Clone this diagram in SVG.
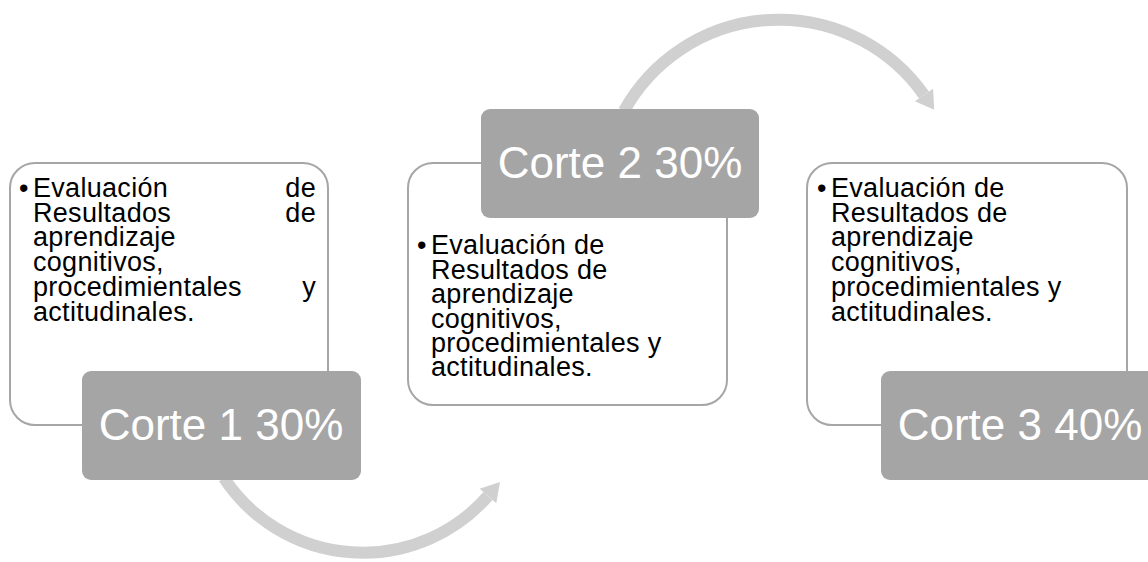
<svg xmlns="http://www.w3.org/2000/svg" width="1148" height="562" viewBox="0 0 1148 562">
<style>
.arc{fill:none;stroke:#d0d0d0;stroke-width:12}
.head{fill:#d0d0d0}
.frame{fill:#ffffff;stroke:#a6a6a6;stroke-width:2}
.tab{fill:#a5a5a5}
.tabtxt{font-family:"Liberation Sans",Arial,sans-serif;font-size:44px;fill:#ffffff;text-anchor:middle}
.body{font-family:"Liberation Sans",Arial,sans-serif;font-size:27px;fill:#000000;letter-spacing:0.3px}
</style>
<g id="connectors">
<path class="arc" d="M224,478 A166.4,166.4 0 0,0 488,496"/>
<polygon class="head" points="500,482 496.3,503.2 479.7,488.8"/>
<path class="arc" d="M624,111 A177.2,177.2 0 0,1 924,95"/>
<polygon class="head" points="934.2,109.8 933.1,88.8 914.9,101.2"/>
</g>
<g id="node1">
<rect class="frame" x="10" y="163" width="318" height="262" rx="25"/>
<text class="body" x="19" y="197">•</text>
<text class="body"><tspan x="33" y="197">Evaluación</tspan><tspan x="316" y="197" text-anchor="end">de</tspan></text>
<text class="body"><tspan x="33" y="222">Resultados</tspan><tspan x="316" y="222" text-anchor="end">de</tspan></text>
<text class="body" x="33" y="246">aprendizaje</text>
<text class="body" x="33" y="271">cognitivos,</text>
<text class="body"><tspan x="33" y="296">procedimientales</tspan><tspan x="316" y="296" text-anchor="end">y</tspan></text>
<text class="body" x="33" y="321">actitudinales.</text>
<rect class="tab" x="82" y="371" width="279" height="109" rx="9"/>
<text class="tabtxt" x="221" y="440">Corte 1 30%</text>
</g>
<g id="node2">
<rect class="frame" x="408" y="163" width="319" height="242" rx="25"/>
<text class="body" x="417" y="254">•</text>
<text class="body" x="431" y="254">Evaluación de</text>
<text class="body" x="431" y="279">Resultados de</text>
<text class="body" x="431" y="303">aprendizaje</text>
<text class="body" x="431" y="328">cognitivos,</text>
<text class="body" x="431" y="352">procedimientales y</text>
<text class="body" x="431" y="376">actitudinales.</text>
<rect class="tab" x="481" y="109" width="278" height="109" rx="9"/>
<text class="tabtxt" x="620" y="178">Corte 2 30%</text>
</g>
<g id="node3">
<rect class="frame" x="807" y="163" width="320" height="262" rx="25"/>
<text class="body" x="817" y="197">•</text>
<text class="body" x="831" y="197">Evaluación de</text>
<text class="body" x="831" y="222">Resultados de</text>
<text class="body" x="831" y="246">aprendizaje</text>
<text class="body" x="831" y="271">cognitivos,</text>
<text class="body" x="831" y="296">procedimientales y</text>
<text class="body" x="831" y="321">actitudinales.</text>
<rect class="tab" x="881" y="371" width="279" height="109" rx="9"/>
<text class="tabtxt" x="1020" y="440">Corte 3 40%</text>
</g>
</svg>
